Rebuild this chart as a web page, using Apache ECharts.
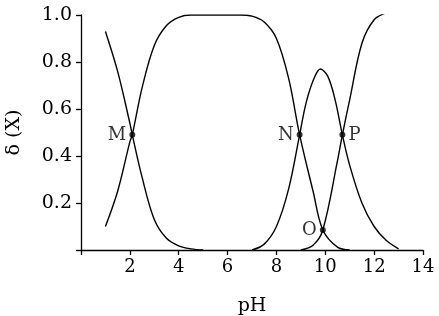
<!DOCTYPE html>
<html>
<head>
<meta charset="utf-8">
<script src="https://cdn.jsdelivr.net/npm/echarts@6/dist/echarts.min.js"></script>
<style>html,body{margin:0;padding:0;background:#fff;}#c{width:439px;height:316px;}</style>
</head>
<body>
<div id="c"></div>
<script>
// Curve A (decreasing, low pH)
const phA = [1.0, 1.5, 2.0, 2.1, 2.5, 3.0, 3.5, 4.0, 4.5, 5.0];
const valA = [0.93, 0.76, 0.54, 0.49, 0.31, 0.13, 0.05, 0.018, 0.005, 0];
// Curve B (rise, plateau, fall)
const phB = [1.0, 1.5, 2.0, 2.1, 2.5, 3.0, 3.5, 4.0, 4.5, 5.0, 6.0, 6.5, 7.0, 7.5, 8.0, 8.5, 8.95, 9.5, 9.9, 10.5, 11.0];
const valB = [0.10, 0.25, 0.46, 0.49, 0.69, 0.87, 0.955, 0.99, 1.0, 1.0, 1.0, 1.0, 0.995, 0.97, 0.90, 0.73, 0.49, 0.25, 0.085, 0.012, 0];
// Curve C (middle peak)
const phC = [7.0, 7.5, 8.0, 8.5, 8.95, 9.2, 9.5, 9.8, 10.1, 10.4, 10.7, 11.0, 11.5, 12.0, 12.5, 13.0];
const valC = [0, 0.025, 0.10, 0.26, 0.49, 0.62, 0.72, 0.77, 0.74, 0.64, 0.49, 0.36, 0.20, 0.10, 0.04, 0.005];
// Curve D (rising, high pH)
const phD = [9.0, 9.5, 9.9, 10.5, 10.7, 11.0, 11.5, 12.0, 12.5, 12.8];
const valD = [0, 0.02, 0.085, 0.38, 0.49, 0.64, 0.88, 0.98, 1.01, 1.02];
// Marked points
const ptNames = ['M', 'N', 'O', 'P'];
const ptPH = [2.1, 8.95, 9.9, 10.7];
const ptVal = [0.49, 0.49, 0.085, 0.49];
const ptPos = ['left', 'left', 'left', 'right'];
// Ticks
const xTicks = [0, 14, 2];
const yTicks = [0, 1.0, 0.2];

const font = 'DejaVu Serif';
const ink = '#000';
const zip = (xs, ys) => xs.map((x, i) => [x, ys[i]]);
const lineSeries = (xs, ys) => ({
  type: 'line', data: zip(xs, ys), smooth: 0.35,
  showSymbol: false, lineStyle: {color: ink, width: 1.4}, silent: true, z: 2
});

const chart = echarts.init(document.getElementById('c'), null, {renderer: 'canvas'});
chart.setOption({
  animation: false,
  grid: {left: 81, right: 16, top: 15, bottom: 66, containLabel: false, outerBoundsMode: 'none'},
  xAxis: {
    type: 'value', min: xTicks[0], max: xTicks[1], interval: xTicks[2],
    name: 'pH', nameLocation: 'middle', nameGap: 47,
    nameTextStyle: {fontFamily: font, fontSize: 19, color: ink},
    axisLine: {lineStyle: {color: ink, width: 1.3}},
    axisTick: {show: true, length: 5, lineStyle: {color: ink, width: 1.3}},
    axisLabel: {fontFamily: font, fontSize: 18, color: ink, margin: 8,
      formatter: v => v === 0 ? '' : String(v)},
    splitLine: {show: false}
  },
  yAxis: {
    type: 'value', min: yTicks[0], max: yTicks[1], interval: yTicks[2],
    name: 'δ (X)', nameLocation: 'middle', nameGap: 57,
    nameTextStyle: {fontFamily: font, fontSize: 19, color: ink},
    axisLine: {show: true, lineStyle: {color: ink, width: 1.3}},
    axisTick: {show: true, length: 5, lineStyle: {color: ink, width: 1.3}},
    axisLabel: {fontFamily: font, fontSize: 19, color: ink, margin: 9,
      formatter: v => v === 0 ? '' : v.toFixed(1)},
    splitLine: {show: false}
  },
  series: [
    lineSeries(phA, valA),
    lineSeries(phB, valB),
    lineSeries(phC, valC),
    lineSeries(phD, valD),
    {
      type: 'scatter', z: 5, symbol: 'circle', symbolSize: 6,
      itemStyle: {color: ink},
      data: ptNames.map((n, i) => ({
        value: [ptPH[i], ptVal[i]], name: n,
        label: {show: true, position: ptPos[i], distance: 3, formatter: n,
          fontFamily: font, fontSize: 18, color: ink}
      }))
    }
  ]
});
</script>
</body>
</html>
